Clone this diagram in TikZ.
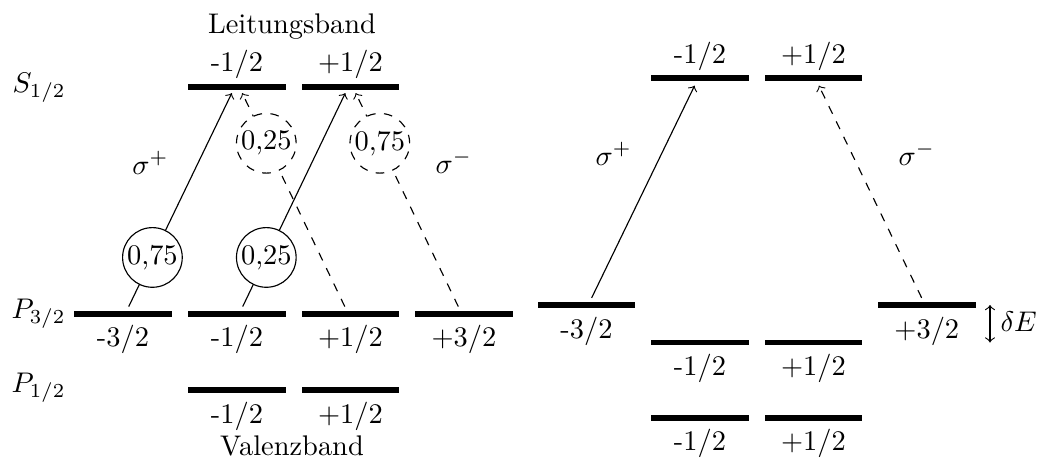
\documentclass[tikz,border=0pt]{standalone}
\usetikzlibrary{calc}
\begin{document}
\begin{tikzpicture}[x=0.352pt,y=-0.352pt,
  lvl/.style={rectangle,fill=black,inner sep=0pt,minimum width=34.4pt,minimum height=2.1pt},
  lab/.style={anchor=base,inner sep=0pt},
  txt/.style={anchor=base west,inner sep=0pt},
  prob/.style={circle,draw,solid,fill=white,inner sep=0pt,minimum size=21pt},
  dprob/.style={prob,dashed},
  trans/.style={->,shorten <=1.4pt,shorten >=1pt},
  transR/.style={->,shorten <=1.4pt,shorten >=1.6pt},
]
\useasboundingbox (0,0) rectangle (1040,461);

% ---------- left part ----------
\node[txt] (Sl) at (12,92) {$S_{1/2}$};
\node[txt] (P3l) at (11,318) {$P_{3/2}$};
\node[txt] (P1l) at (11,392) {$P_{1/2}$};

\node[lab] (LB) at (292,33) {Leitungsband};
\node[lab] (VB) at (292,455) {Valenzband};

\node[lvl] (S1) at (237,87) {};
\node[lvl] (S2) at (350.5,87) {};
\node[lab] (lS1) at (237,71) {-1/2};
\node[lab] (lS2) at (350.5,71) {+1/2};

\node[lvl] (P1) at (123,313.7) {};
\node[lvl] (P2) at (237,313.7) {};
\node[lvl] (P3) at (350.5,313.7) {};
\node[lvl] (P4) at (464,313.7) {};
\node[lab] (lP1) at (123,346) {-3/2};
\node[lab] (lP2) at (237,346) {-1/2};
\node[lab] (lP3) at (350.5,346) {+1/2};
\node[lab] (lP4) at (464,346) {+3/2};

\node[lvl] (Q1) at (237,389.7) {};
\node[lvl] (Q2) at (350.5,389.7) {};
\node[lab] (lQ1) at (237,423) {-1/2};
\node[lab] (lQ2) at (350.5,423) {+1/2};

\draw[trans] ([xshift=1.4pt]P1.north) -- node[prob,pos=0.24] (c1) {0,75} ([xshift=-1.4pt]S1.south);
\draw[trans] ([xshift=1.4pt]P2.north) -- node[prob,pos=0.24] (c2) {0,25} ([xshift=-1.4pt]S2.south);
\draw[trans,dashed] ([xshift=-1.4pt]P3.north) -- node[dprob,pos=0.76] (c3) {0,25} ([xshift=1.4pt]S1.south);
\draw[trans,dashed] ([xshift=-1.4pt]P4.north) -- node[dprob,pos=0.76] (c4) {0,75} ([xshift=1.4pt]S2.south);

\node[txt] (spl) at (131.7,174.3) {$\sigma^+$};
\node[txt] (sml) at (435,173) {$\sigma^-$};

% ---------- right part ----------
\node[lvl] (T1) at (700,78) {};
\node[lvl] (T2) at (813.5,78) {};
\node[lab] (lT1) at (700,63) {-1/2};
\node[lab] (lT2) at (813.5,63) {+1/2};

\node[lvl] (R1) at (586.5,305) {};
\node[lvl] (R4) at (926.8,305) {};
\node[lab] (lR1) at (586.5,338) {-3/2};
\node[lab] (lR4) at (926.8,338) {+3/2};

\node[lvl] (R2) at (700,342.5) {};
\node[lvl] (R3) at (813.5,342.5) {};
\node[lab] (lR2) at (700,375) {-1/2};
\node[lab] (lR3) at (813.5,375) {+1/2};

\node[lvl] (U1) at (700,417.7) {};
\node[lvl] (U2) at (813.5,417.7) {};
\node[lab] (lU1) at (700,450) {-1/2};
\node[lab] (lU2) at (813.5,450) {+1/2};

\draw[transR] ([xshift=1.2pt]R1.north) -- ([xshift=-1.2pt]T1.south);
\draw[transR,dashed] ([xshift=-1.2pt]R4.north) -- ([xshift=1.2pt]T2.south);

\node[txt] (spr) at (595,165) {$\sigma^+$};
\node[txt] (smr) at (898,165) {$\sigma^-$};

\coordinate (dE1) at (990,305);
\coordinate (dE2) at (990,342.5);
\draw[<->] (dE1) -- (dE2);
\node[txt] (dE) at (1000,331.7) {$\delta E$};
\end{tikzpicture}
\end{document}
